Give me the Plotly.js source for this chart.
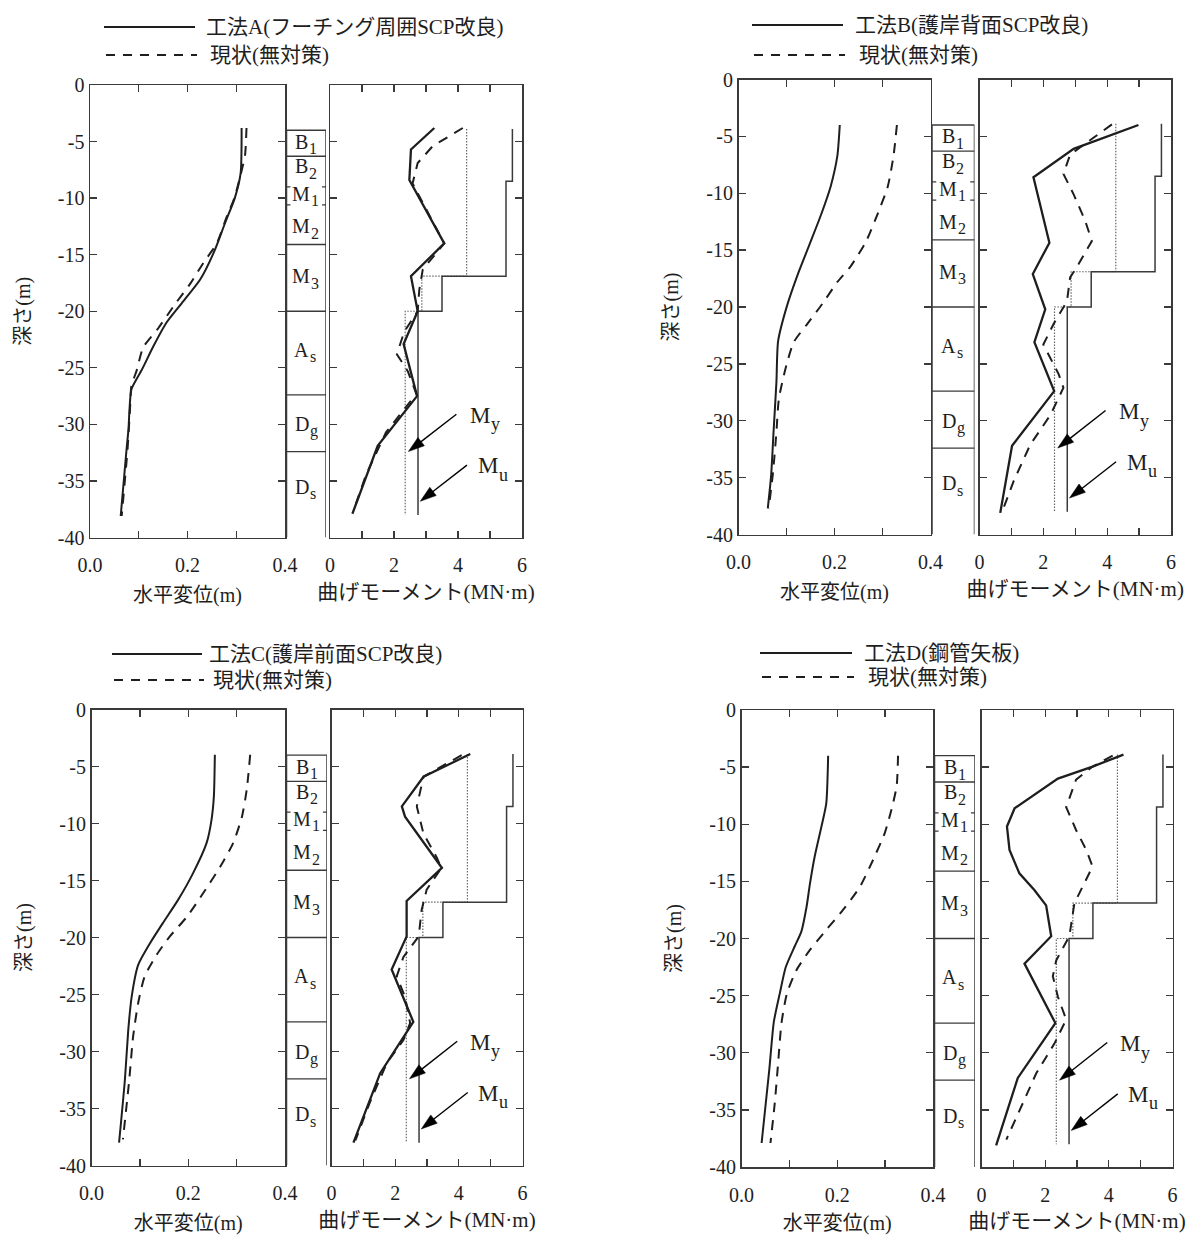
<!DOCTYPE html>
<html>
<head>
<meta charset="utf-8">
<script src="https://cdn.plot.ly/plotly-3.0.1.min.js"></script>
<style>
html,body{margin:0;padding:0;background:#fff;}
#chart{width:1189px;height:1235px;}
</style>
</head>
<body>
<div id="chart"></div>
<script>
// ===================== DATA =====================
const dispTickVals = [0, 0.2, 0.4];
const dispTickText = ['0.0', '0.2', '0.4'];
const dispMinorTicks = [0.1, 0.3];
const momentTickVals = [0, 2, 4, 6];
const momentTickText = ['0', '2', '4', '6'];
const momentMinorTicks = [1, 3, 5];
const depthTickVals = [0, -5, -10, -15, -20, -25, -30, -35, -40];
const depthTickText = ['0', '-5', '-10', '-15', '-20', '-25', '-30', '-35', '-40'];

const methodNames = ['工法A(フーチング周囲SCP改良)', '工法B(護岸背面SCP改良)', '工法C(護岸前面SCP改良)', '工法D(鋼管矢板)'];
const currentName = '現状(無対策)';
const dispTitle = '水平変位(m)';
const momentTitle = '曲げモーメント(MN·m)';
const depthTitle = '深さ(m)';

// soil column
const soilTop = -4;
const soilBoundaries = [-6.3, -14.1, -20, -27.4, -32.4];
const soilThinMarks = [-9.0, -10.6];
const soilLabelMain = ['B', 'B', 'M', 'M', 'M', 'A', 'D', 'D'];
const soilLabelSub = ['1', '2', '1', '2', '3', 's', 'g', 's'];
const soilLabelDepths = [-5.0, -7.2, -9.6, -12.5, -16.9, -23.4, -30.0, -35.5];

// pile capacity (same pile for all panels)
const myDepth = [-3.9, -16.9, -16.9, -20, -20, -38];
const myMoment = [4.27, 4.27, 2.87, 2.87, 2.35, 2.35];
const muDepth = [-3.9, -8.5, -8.5, -16.9, -16.9, -20, -20, -38];
const muMoment = [5.7, 5.7, 5.5, 5.5, 3.5, 3.5, 2.75, 2.75];

// pointer arrows for My / Mu (moment, depth): tail -> head
const myArrowMoment = [3.95, 2.45];
const myArrowDepth = [-29.1, -32.4];
const muArrowMoment = [4.28, 2.82];
const muArrowDepth = [-33.6, -36.8];
const myLabel = ['M', 'y'];
const muLabel = ['M', 'u'];
const myLabelPos = [5.05, -29.2];
const muLabelPos = [5.3, -33.65];

// ---- Panel A ----
const dispA_methodDepth = [-3.8, -7.8, -10, -12.2, -14.6, -17.2, -19.3, -21.0, -23.1, -25.2, -26.9, -28.7, -30.4, -32.2, -38.1];
const dispA_method = [0.311, 0.309, 0.297, 0.277, 0.256, 0.226, 0.188, 0.157, 0.130, 0.106, 0.085, 0.081, 0.079, 0.075, 0.063];
const dispA_currentDepth = [-3.8, -6.2, -8.1, -10, -11.7, -14, -15.7, -17.6, -19.4, -21.5, -23.2, -25.2, -26.6, -28.7, -32.2, -38.1];
const dispA_current = [0.321, 0.318, 0.308, 0.296, 0.280, 0.260, 0.233, 0.205, 0.174, 0.140, 0.109, 0.096, 0.085, 0.082, 0.077, 0.065];
const momA_methodDepth = [-3.8, -5.7, -8.4, -14.0, -16.9, -20.0, -22.9, -27.5, -31.9, -37.9];
const momA_method = [3.26, 2.53, 2.48, 3.57, 2.53, 2.74, 2.30, 2.72, 1.49, 0.70];
const momA_currentDepth = [-3.8, -5.4, -6.9, -8.7, -14.0, -16.3, -18.1, -20.0, -21.8, -23.8, -25.3, -27.3, -30.7, -34.5, -37.5];
const momA_current = [4.15, 3.21, 2.74, 2.58, 3.57, 2.90, 2.79, 2.74, 2.32, 2.09, 2.43, 2.70, 1.75, 1.12, 0.75];

// ---- Panel B ----
const dispB_methodDepth = [-4.0, -6.7, -9.4, -12.0, -14.6, -17.3, -19.9, -23.0, -26.6, -31.0, -34.8, -37.7];
const dispB_method = [0.211, 0.206, 0.192, 0.171, 0.147, 0.122, 0.101, 0.0825, 0.079, 0.073, 0.068, 0.061];
const dispB_currentDepth = [-4.0, -6.7, -9.4, -11.7, -14.3, -16.4, -17.8, -19.7, -21.5, -23.1, -25.4, -28.1, -31.0, -34.5, -37.7];
const dispB_current = [0.330, 0.323, 0.311, 0.291, 0.265, 0.234, 0.206, 0.175, 0.143, 0.115, 0.098, 0.084, 0.079, 0.072, 0.063];
const momB_methodDepth = [-4.0, -6.1, -8.6, -14.35, -17.1, -20.2, -23.1, -27.4, -32.2, -38.1];
const momB_method = [4.98, 2.95, 1.69, 2.19, 1.67, 2.06, 1.72, 2.34, 1.02, 0.65];
const momB_currentDepth = [-3.95, -5.85, -6.6, -8.3, -10.1, -12.4, -14.2, -16.25, -17.4, -19.5, -21.5, -23.3, -25.9, -27.1, -29.5, -32.1, -35.3, -37.7];
const momB_current = [4.15, 3.21, 2.84, 2.63, 2.95, 3.31, 3.52, 3.10, 2.84, 2.74, 2.32, 2.0, 2.48, 2.63, 2.22, 1.59, 1.07, 0.75];

// ---- Panel C ----
const dispC_methodDepth = [-3.97, -7.6, -9.7, -11.7, -14.35, -16.7, -18.7, -20.5, -22.4, -25.2, -28.1, -32.5, -38.0];
const dispC_method = [0.255, 0.253, 0.248, 0.238, 0.210, 0.179, 0.148, 0.121, 0.0965, 0.083, 0.076, 0.069, 0.057];
const dispC_currentDepth = [-3.97, -7.0, -9.4, -11.7, -13.8, -16.1, -18.2, -19.9, -21.5, -23.4, -25.75, -28.7, -32.5, -37.7];
const dispC_current = [0.328, 0.321, 0.311, 0.293, 0.266, 0.231, 0.197, 0.162, 0.135, 0.110, 0.0965, 0.086, 0.078, 0.065];
const momC_methodDepth = [-3.9, -5.9, -8.5, -9.4, -13.9, -16.8, -19.9, -22.8, -27.4, -31.9, -38.0];
const momC_method = [4.36, 2.89, 2.21, 2.31, 3.47, 2.36, 2.36, 1.89, 2.57, 1.53, 0.69];
const momC_currentDepth = [-4.0, -5.9, -8.5, -10.9, -13.0, -13.9, -15.8, -17.6, -19.9, -21.7, -23.4, -25.2, -27.5, -29.0, -31.0, -34.5, -37.8];
const momC_current = [4.09, 2.89, 2.68, 2.89, 3.31, 3.45, 2.99, 2.83, 2.74, 2.26, 2.05, 2.31, 2.47, 2.26, 1.74, 1.20, 0.75];

// ---- Panel D ----
const dispD_methodDepth = [-4.0, -8.2, -10.2, -12.8, -15.2, -17.2, -19.4, -20.7, -22.5, -24.8, -27.3, -31.5, -37.9];
const dispD_method = [0.181, 0.177, 0.167, 0.153, 0.143, 0.136, 0.125, 0.111, 0.0925, 0.080, 0.0675, 0.058, 0.042];
const dispD_currentDepth = [-4.0, -6.7, -8.75, -10.8, -13.1, -15.5, -17.5, -19.25, -21.0, -22.75, -24.8, -27.4, -30.9, -34.4, -37.9];
const dispD_current = [0.327, 0.324, 0.313, 0.299, 0.275, 0.247, 0.212, 0.177, 0.143, 0.115, 0.095, 0.0835, 0.0765, 0.0695, 0.0605];
const momD_methodDepth = [-3.9, -4.95, -6.0, -7.3, -8.6, -10.2, -12.25, -14.3, -15.75, -17.1, -19.8, -22.2, -27.4, -32.2, -38.1];
const momD_method = [4.46, 3.49, 2.40, 1.72, 1.04, 0.80, 0.88, 1.19, 1.66, 2.03, 2.19, 1.35, 2.32, 1.14, 0.46];
const momD_currentDepth = [-4.0, -4.95, -6.1, -8.5, -10.5, -12.25, -13.7, -15.5, -16.9, -18.7, -19.8, -21.9, -23.3, -25.1, -27.1, -29.2, -31.8, -34.4, -37.6];
const momD_current = [4.12, 3.49, 2.97, 2.66, 2.97, 3.29, 3.49, 3.18, 2.92, 2.82, 2.76, 2.35, 2.24, 2.40, 2.66, 2.29, 1.72, 1.30, 0.78];

// ===================== LAYOUT / DRAW =====================
const W = 1189, H = 1235;
const PX = v => v / W;
const PY = v => 1 - v / H;
const SERIF = '"Liberation Serif", "Times New Roman", "Noto Sans CJK JP", serif';
const INK = '#1e1e1e';
const AXC = '#3a3a3a';
const LETTER_EM = {B: 0.667, M: 0.889, A: 0.722, D: 0.722};

const panels = [
  {dispM: [dispA_methodDepth, dispA_method], dispC: [dispA_currentDepth, dispA_current],
   momM: [momA_methodDepth, momA_method], momC: [momA_currentDepth, momA_current],
   g: {disp: [90, 285], soil: [286.5, 326], mom: [330, 522], top: 85, bot: 537.5,
       leg: {x0: 104, x1: 195, y1: 27, y2: 55, tx: 204}}},
  {dispM: [dispB_methodDepth, dispB_method], dispC: [dispB_currentDepth, dispB_current],
   momM: [momB_methodDepth, momB_method], momC: [momB_currentDepth, momB_current],
   g: {disp: [738.5, 930.5], soil: [932, 974.5], mom: [979.5, 1171], top: 79.5, bot: 534.5,
       leg: {x0: 752, x1: 843, y1: 25, y2: 55, tx: 853}}},
  {dispM: [dispC_methodDepth, dispC_method], dispC: [dispC_currentDepth, dispC_current],
   momM: [momC_methodDepth, momC_method], momC: [momC_currentDepth, momC_current],
   g: {disp: [91.5, 285], soil: [286.5, 327], mom: [331.5, 522.5], top: 709.5, bot: 1165.5,
       leg: {x0: 112, x1: 202, y1: 654, y2: 680, tx: 207}}},
  {dispM: [dispD_methodDepth, dispD_method], dispC: [dispD_currentDepth, dispD_current],
   momM: [momD_methodDepth, momD_method], momC: [momD_currentDepth, momD_current],
   g: {disp: [741.5, 933], soil: [934.5, 975], mom: [981.5, 1172.5], top: 710, bot: 1167,
       leg: {x0: 760, x1: 852, y1: 653, y2: 677, tx: 862}}}
];

const traces = [];
const layout = {
  width: W, height: H,
  margin: {l: 0, r: 0, t: 0, b: 0, pad: 0},
  paper_bgcolor: '#ffffff', plot_bgcolor: 'rgba(0,0,0,0)',
  showlegend: false,
  font: {family: SERIF, size: 20, color: INK},
  annotations: [], shapes: []
};

function axName(k, letter) { return (k === 1 ? letter + 'axis' : letter + 'axis' + k); }
function axRef(k, letter) { return (k === 1 ? letter : letter + k); }

// a letter with a lowered subscript, as two plain text annotations
function subLabel(xref, yref, x, y, main, sub, size, subSize, drop) {
  layout.annotations.push({xref: xref, yref: yref, x: x, y: y, text: main, showarrow: false,
    xanchor: 'right', yanchor: 'middle', font: {family: SERIF, size: size, color: INK}});
  layout.annotations.push({xref: xref, yref: yref, x: x, y: y, yshift: -drop, xshift: -3, text: sub, showarrow: false,
    xanchor: 'left', yanchor: 'middle', font: {family: SERIF, size: subSize, color: INK}});
}

const baseAxis = {
  showgrid: false, zeroline: false, showline: true, linecolor: AXC, linewidth: 1.5,
  mirror: 'ticks', ticks: 'inside', ticklen: 7, tickwidth: 1.3, tickcolor: AXC,
  tickfont: {family: SERIF, size: 20, color: INK}, fixedrange: true
};

panels.forEach((p, i) => {
  const g = p.g;
  const kd = 3 * i + 1, ks = 3 * i + 2, km = 3 * i + 3;
  const yDom = [PY(g.bot), PY(g.top)];

  // displacement axes
  layout[axName(kd, 'x')] = Object.assign({}, baseAxis, {
    domain: [PX(g.disp[0]), PX(g.disp[1])], range: [0, 0.4], anchor: axRef(kd, 'y'),
    tickmode: 'array', tickvals: dispTickVals, ticktext: dispTickText, ticklabelstandoff: 9,
    minor: {tickmode: 'array', tickvals: dispMinorTicks, ticks: 'inside', ticklen: 7, tickwidth: 1.3, tickcolor: AXC, showgrid: false},
    title: {text: dispTitle, font: {family: SERIF, size: 20, color: INK}, standoff: 13}
  });
  layout[axName(kd, 'y')] = Object.assign({}, baseAxis, {
    domain: yDom, range: [-40, 0], anchor: axRef(kd, 'x'),
    tickmode: 'array', tickvals: depthTickVals, ticktext: depthTickText,
    title: {text: depthTitle, font: {family: SERIF, size: 20, color: INK}, standoff: 22}
  });
  // soil column axes (hidden)
  layout[axName(ks, 'x')] = {domain: [PX(g.soil[0]), PX(g.soil[1])], range: [0, 1], visible: false, anchor: axRef(ks, 'y'), fixedrange: true};
  layout[axName(ks, 'y')] = {domain: yDom, range: [-40, 0], visible: false, anchor: axRef(ks, 'x'), fixedrange: true};
  // moment axes
  layout[axName(km, 'x')] = Object.assign({}, baseAxis, {
    domain: [PX(g.mom[0]), PX(g.mom[1])], range: [0, 6], anchor: axRef(km, 'y'),
    tickmode: 'array', tickvals: momentTickVals, ticktext: momentTickText, ticklabelstandoff: 9,
    minor: {tickmode: 'array', tickvals: momentMinorTicks, ticks: 'inside', ticklen: 7, tickwidth: 1.3, tickcolor: AXC, showgrid: false},
    title: {text: momentTitle, font: {family: SERIF, size: 21, color: INK}, standoff: 9}
  });
  layout[axName(km, 'y')] = Object.assign({}, baseAxis, {
    domain: yDom, range: [-40, 0], anchor: axRef(km, 'x'),
    tickmode: 'array', tickvals: depthTickVals, showticklabels: false
  });

  const xd = axRef(kd, 'x'), yd = axRef(kd, 'y');
  const xs = axRef(ks, 'x'), ys = axRef(ks, 'y');
  const xm = axRef(km, 'x'), ym = axRef(km, 'y');

  // displacement curves
  traces.push({type: 'scatter', mode: 'lines', x: p.dispM[1], y: p.dispM[0], xaxis: xd, yaxis: yd,
    line: {color: INK, width: 2, shape: 'spline', smoothing: 0.6}, name: methodNames[i], hoverinfo: 'skip'});
  traces.push({type: 'scatter', mode: 'lines', x: p.dispC[1], y: p.dispC[0], xaxis: xd, yaxis: yd,
    line: {color: INK, width: 2, dash: '10px,8px', shape: 'spline', smoothing: 0.6}, name: currentName, hoverinfo: 'skip'});

  // moment capacity
  traces.push({type: 'scatter', mode: 'lines', x: myMoment, y: myDepth, xaxis: xm, yaxis: ym,
    line: {color: '#666', width: 1.2, dash: '1.5px,1.5px'}, name: 'My', hoverinfo: 'skip'});
  traces.push({type: 'scatter', mode: 'lines', x: muMoment, y: muDepth, xaxis: xm, yaxis: ym,
    line: {color: AXC, width: 1.5}, name: 'Mu', hoverinfo: 'skip'});
  // moment curves
  traces.push({type: 'scatter', mode: 'lines', x: p.momM[1], y: p.momM[0], xaxis: xm, yaxis: ym,
    line: {color: INK, width: 2.3}, name: methodNames[i], hoverinfo: 'skip'});
  traces.push({type: 'scatter', mode: 'lines', x: p.momC[1], y: p.momC[0], xaxis: xm, yaxis: ym,
    line: {color: INK, width: 2, dash: '10px,8px'}, name: currentName, hoverinfo: 'skip'});

  // My / Mu pointer arrows (line + arrow marker at the head)
  [[myArrowMoment, myArrowDepth], [muArrowMoment, muArrowDepth]].forEach(a => {
    traces.push({type: 'scatter', mode: 'lines+markers', x: a[0], y: a[1], xaxis: xm, yaxis: ym,
      line: {color: '#000', width: 1.4},
      marker: {symbol: 'arrow', angleref: 'previous', size: [0, 17], color: '#000', opacity: 1, line: {width: 0.5, color: '#000'}},
      hoverinfo: 'skip'});
  });
  subLabel(xm, ym, myLabelPos[0], myLabelPos[1], myLabel[0], myLabel[1], 23, 18, 9);
  subLabel(xm, ym, muLabelPos[0], muLabelPos[1], muLabel[0], muLabel[1], 23, 18, 9);

  // soil column shapes
  const sl = {color: AXC, width: 1.5};
  layout.shapes.push({type: 'line', xref: xs, yref: ys, x0: 0, x1: 0, y0: -40, y1: soilTop, line: sl});
  layout.shapes.push({type: 'line', xref: xs, yref: ys, x0: 1, x1: 1, y0: -40, y1: soilTop, line: sl});
  [soilTop].concat(soilBoundaries).forEach(b => {
    layout.shapes.push({type: 'line', xref: xs, yref: ys, x0: 0, x1: 1, y0: b, y1: b, line: {color: AXC, width: 1.3}});
  });
  soilThinMarks.forEach(b => {
    layout.shapes.push({type: 'line', xref: xs, yref: ys, x0: 0, x1: 0.1, y0: b, y1: b, line: {color: AXC, width: 1.2}});
    layout.shapes.push({type: 'line', xref: xs, yref: ys, x0: 0.9, x1: 1, y0: b, y1: b, line: {color: AXC, width: 1.2}});
  });
  const colW = g.soil[1] - g.soil[0];
  soilLabelMain.forEach((t, j) => {
    const mainW = LETTER_EM[t] * 20, subW = 7.5;
    const anchor = (0.5 * colW - (mainW + subW) / 2 + mainW + 1) / colW;
    subLabel(xs, ys, anchor, soilLabelDepths[j], t, soilLabelSub[j], 20, 16, 7);
  });

  // legend (custom, per panel)
  const L = g.leg;
  layout.shapes.push({type: 'line', xref: 'paper', yref: 'paper', x0: PX(L.x0), x1: PX(L.x1), y0: PY(L.y1), y1: PY(L.y1),
    line: {color: INK, width: 2}});
  layout.shapes.push({type: 'line', xref: 'paper', yref: 'paper', x0: PX(L.x0 + 2), x1: PX(L.x1 + 2), y0: PY(L.y2), y1: PY(L.y2),
    line: {color: INK, width: 2, dash: '9px,8px'}});
  layout.annotations.push({xref: 'paper', yref: 'paper', x: PX(L.tx), y: PY(L.y1), text: methodNames[i], showarrow: false,
    xanchor: 'left', yanchor: 'middle', font: {family: SERIF, size: 21, color: INK}});
  layout.annotations.push({xref: 'paper', yref: 'paper', x: PX(L.tx + 4), y: PY(L.y2), text: currentName, showarrow: false,
    xanchor: 'left', yanchor: 'middle', font: {family: SERIF, size: 21, color: INK}});
});

Plotly.newPlot('chart', traces, layout, {staticPlot: true, displayModeBar: false});
</script>
</body>
</html>
